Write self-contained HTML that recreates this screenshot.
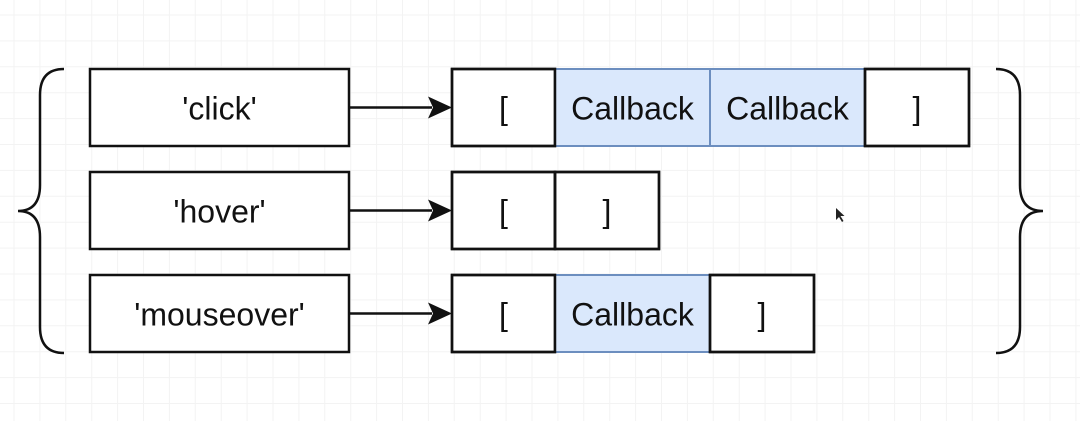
<!DOCTYPE html>
<html><head><meta charset="utf-8"><style>
html,body{margin:0;padding:0;background:#fff}
svg{display:block}
text{font-family:"Liberation Sans",Arial,sans-serif;font-size:32px;fill:#111}
</style></head><body>
<svg width="1080" height="421" viewBox="0 0 1080 421">
<g id="grid"></g>
<path d="M64,69 Q40,69 40,95 L40,185 Q40,211 18,211 Q40,211 40,237 L40,327 Q40,353 64,353" fill="none" stroke="#111" stroke-width="2.5"/>
<path d="M996,69 Q1020,69 1020,95 L1020,185 Q1020,211 1043,211 Q1020,211 1020,237 L1020,327 Q1020,353 996,353" fill="none" stroke="#111" stroke-width="2.5"/>
<g id="rows"></g>
<path d="M836,208 l0,12 l3,-3 l3,5 l1.5,-1 l-3,-5 l4,0 z" fill="#222"/>
</svg>
<script>
const keys=["'click'","'hover'","'mouseover'"];
const callbacks=[2,0,1];
const rowsY=[69,172,275];
const NS="http://www.w3.org/2000/svg";
function mk(t,a,p){const e=document.createElementNS(NS,t);for(const k in a)e.setAttribute(k,a[k]);p.appendChild(e);return e;}
const g=document.getElementById('grid');
for(let x=14;x<1080;x+=25.9){mk('line',{x1:x,y1:0,x2:x,y2:421,stroke:'#f3f3f3','stroke-width':1},g);}
for(let y=15;y<421;y+=25.9){mk('line',{x1:0,y1:y,x2:1080,y2:y,stroke:'#f3f3f3','stroke-width':1},g);}
const R=document.getElementById('rows');
keys.forEach((k,i)=>{
 const y=rowsY[i],h=77,cy=y+h/2;
 const kb=mk('rect',{x:90,y:y,width:259,height:h,fill:'#fff',stroke:'#111','stroke-width':2.5},R);
 
 
 const kt=mk('text',{x:219.5,y:cy+12,'text-anchor':'middle'},R);kt.textContent=k;
 
 
 const ar=mk('path',{d:`M349,${cy} L432,${cy}`,stroke:'#111','stroke-width':2.5},R);
 
 
 const ah=mk('path',{d:`M452,${cy} L428,${cy-11} L433,${cy} L428,${cy+11} Z`,fill:'#111'},R);
 
 
 const n=callbacks[i];
 const cells=[['[',452,103,false]];
 let x=555;
 for(let j=0;j<n;j++){cells.push(['Callback',x,155,true]);x+=155;}
 cells.push([']',x,104,false]);
 cells.forEach(c=>{
  const r=mk('rect',{x:c[1],y:y,width:c[2],height:h,fill:c[3]?'#dae8fc':'#fff',stroke:c[3]?'#6c8ebf':'#111','stroke-width':c[3]?2:2.5},R);
  
  
  const t=mk('text',{x:c[1]+c[2]/2,y:cy+12,'text-anchor':'middle'},R);t.textContent=c[0];
  
  
 });
 cells.forEach(c=>{if(!c[3]){const r2=mk('rect',{x:c[1],y:y,width:c[2],height:h,fill:'none',stroke:'#111','stroke-width':2.5},R);
  
  }});
});
</script>
</body></html>
